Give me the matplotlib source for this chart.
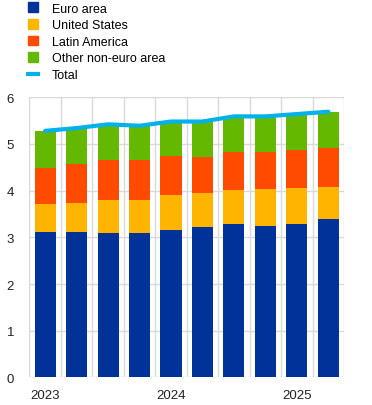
import matplotlib.pyplot as plt
import numpy as np
from matplotlib.patches import Patch
from matplotlib.lines import Line2D

plt.rcParams['font.family'] = ['Liberation Sans', 'DejaVu Sans']

# quarterly data, 2023 Q1 - 2025 Q2
quarters = ['2023 Q1', '2023 Q2', '2023 Q3', '2023 Q4', '2024 Q1', '2024 Q2',
            '2024 Q3', '2024 Q4', '2025 Q1', '2025 Q2']
euro_area = [3.12, 3.12, 3.09, 3.09, 3.15, 3.22, 3.29, 3.25, 3.29, 3.40]
united_states = [0.60, 0.62, 0.71, 0.71, 0.76, 0.73, 0.73, 0.79, 0.77, 0.68]
latin_america = [0.77, 0.83, 0.85, 0.85, 0.84, 0.77, 0.81, 0.79, 0.81, 0.84]
other_non_euro = [0.79, 0.77, 0.77, 0.74, 0.73, 0.76, 0.76, 0.76, 0.77, 0.77]
total = [5.28, 5.34, 5.42, 5.39, 5.48, 5.48, 5.59, 5.59, 5.64, 5.69]
xtick_labels = {0: '2023', 4: '2024', 8: '2025'}

colors = ['#003299', '#ffb400', '#ff4b00', '#65b800']
names = ['Euro area', 'United States', 'Latin America', 'Other non-euro area']
line_color = '#00b1ea'

fig = plt.figure(figsize=(3.72, 4.06), dpi=100)
ax = fig.add_axes([0.079, 0.068, 0.846, 0.690])

x = np.arange(len(quarters))
bottom = np.zeros(len(quarters))
for vals, c in zip([euro_area, united_states, latin_america, other_non_euro], colors):
    ax.bar(x, vals, width=0.67, bottom=bottom, color=c, zorder=2)
    bottom += np.array(vals)

ax.plot(x, total, color=line_color, lw=3, solid_capstyle='round', zorder=3)

ax.set_xlim(-0.5, len(quarters) - 0.5)
ax.set_ylim(0, 6)
ax.set_yticks(range(0, 7))
ax.set_xticks(list(xtick_labels.keys()))
ax.set_xticklabels(list(xtick_labels.values()))
ax.set_xticks(np.arange(-0.5, len(quarters), 1), minor=True)
ax.grid(axis='y', color='#d9d9d9', lw=1, zorder=0)
ax.grid(axis='x', which='minor', color='#d9d9d9', lw=1, zorder=0)
ax.tick_params(axis='both', which='both', length=0, labelsize=9.5, colors='#222222')
ax.tick_params(axis='y', pad=11)
ax.tick_params(axis='x', pad=8)
for s in ax.spines.values():
    s.set_visible(False)

handles = [Patch(color=c) for c in colors] + [Line2D([0], [0], color=line_color, lw=3)]
fig.legend(handles, names + ['Total'], loc='upper left', bbox_to_anchor=(0.055, 1.01),
           frameon=False, fontsize=9, handlelength=0.8, handleheight=0.8,
           handletextpad=1.1, labelspacing=0.36, borderaxespad=0.2)

fig.savefig('out.png', dpi=100)
